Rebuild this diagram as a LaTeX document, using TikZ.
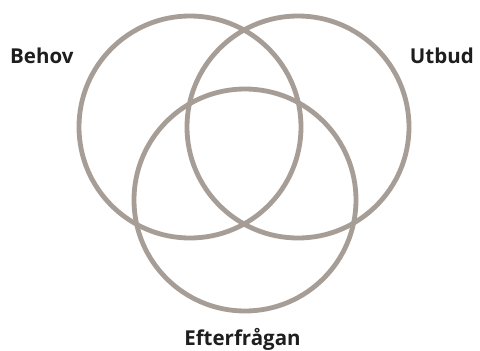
\documentclass[tikz,border=0pt]{standalone}
\usepackage{fontspec}
\setmainfont{Open Sans}
\definecolor{ringgrey}{RGB}{166,157,150}
\definecolor{labelblack}{RGB}{30,30,30}
\begin{document}
\begin{tikzpicture}[x=1pt,y=-1pt,
  ring/.style={draw=ringgrey,line width=4.8pt},
  lbl/.style={inner sep=0pt,font=\fontsize{20.5}{20.5}\selectfont\bfseries,text=labelblack}]
\useasboundingbox (0,0) rectangle (480,351);
\fill[white] (0,0) rectangle (480,351);
\coordinate (cl) at (190,127);
\coordinate (cr) at (298,127);
\coordinate (cb) at (245,200);
\draw[ring] (cl) circle[radius=111];
\draw[ring] (cr) circle[radius=111];
\draw[ring] (cb) circle[radius=111];
\node[lbl,anchor=base west] (behov) at (10,63) {Behov};
\node[lbl,anchor=base east] (utbud) at (474,63) {Utbud};
\node[lbl,anchor=base] (efter) at (242.5,345) {Efterfrågan};
\end{tikzpicture}
\end{document}
